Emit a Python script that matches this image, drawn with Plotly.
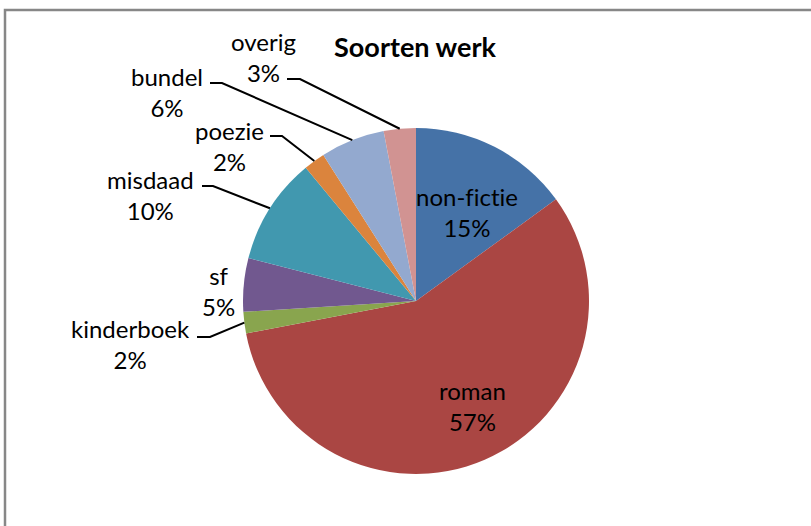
import math
import plotly.graph_objects as go

# ---- data ----
categories = ["non-fictie", "roman", "kinderboek", "sf", "misdaad", "poezie", "bundel", "overig"]
values = [15, 57, 2, 5, 10, 2, 6, 3]
colors = ["#4572A7", "#AA4643", "#89A54E", "#71588F", "#4198AF", "#DB843D", "#93A9CF", "#D19392"]

# ---- layout constants (pixels) ----
W, H = 811, 526
CX, CY, R = 416, 301, 173
FONT = "Lato"
FS = 24

# label block centres (pixels) and leader stubs (x_start, x_end, y) for outside labels
label_pos = {
    "non-fictie": (467, 212),
    "roman": (472, 406),
    "kinderboek": (130, 344),
    "sf": (218, 291),
    "misdaad": (150, 195),
    "poezie": (229, 146),
    "bundel": (167, 92),
    "overig": (263, 57),
}
stubs = {
    "kinderboek": (197, 210, 337),
    "misdaad": (202, 213, 186),
    "poezie": (270, 282, 136),
    "bundel": (210, 222, 83),
    "overig": (287, 300, 79),
}

px = lambda x: x / W
py = lambda y: 1 - y / H

fig = go.Figure(go.Pie(
    labels=categories, values=values, sort=False, direction="clockwise", rotation=0,
    marker=dict(colors=colors, line=dict(width=0)),
    textinfo="none", hoverinfo="label+percent", showlegend=False,
    domain=dict(x=[px(CX - R), px(CX + R)], y=[py(CY + R), py(CY - R)]),
))

total = sum(values)
cum = 0
annotations = []
shapes = []
for cat, v in zip(categories, values):
    mid = (cum + v / 2) / total
    cum += v
    pct = round(100 * v / total)
    lx, ly = label_pos[cat]
    annotations.append(dict(
        x=px(lx), y=py(ly), xref="paper", yref="paper", xanchor="center", yanchor="middle",
        text=f"{cat}<br>{pct}%", showarrow=False, align="center",
        font=dict(family=FONT, size=FS, color="#000000"),
    ))
    if cat in stubs:
        ang = 2 * math.pi * mid
        ex = CX + R * math.sin(ang)
        ey = CY - R * math.cos(ang)
        x0, x1, y0 = stubs[cat]
        shapes.append(dict(
            type="path", xref="paper", yref="paper",
            path=f"M {px(x0)} {py(y0)} L {px(x1)} {py(y0)} L {px(ex)} {py(ey)}",
            line=dict(color="#000000", width=2),
        ))

# outer chart border (extends beyond right/bottom edges)
shapes.append(dict(type="rect", xref="paper", yref="paper",
                   x0=px(5), x1=1.02, y0=-0.02, y1=py(10),
                   line=dict(color="#878787", width=2.5), fillcolor="rgba(0,0,0,0)", layer="below"))

fig.update_layout(
    width=W, height=H, margin=dict(l=0, r=0, t=0, b=0),
    paper_bgcolor="#FFFFFF", plot_bgcolor="#FFFFFF",
    title=dict(text="<b>Soorten werk</b>", x=px(415), y=py(48), xanchor="center", yanchor="middle",
               font=dict(family=FONT, size=27, color="#000000")),
    annotations=annotations, shapes=shapes,
)

post = (
    "document.body.style.margin='0';document.body.style.overflow='hidden';"
    "var s=document.createElement('style');"
    "s.textContent='text{font-variant-ligatures:none !important;font-feature-settings:\"liga\" 0,\"clig\" 0 !important;}';"
    "document.head.appendChild(s);"
)
fig.write_html("out.html", post_script=post, config={"displayModeBar": False})
